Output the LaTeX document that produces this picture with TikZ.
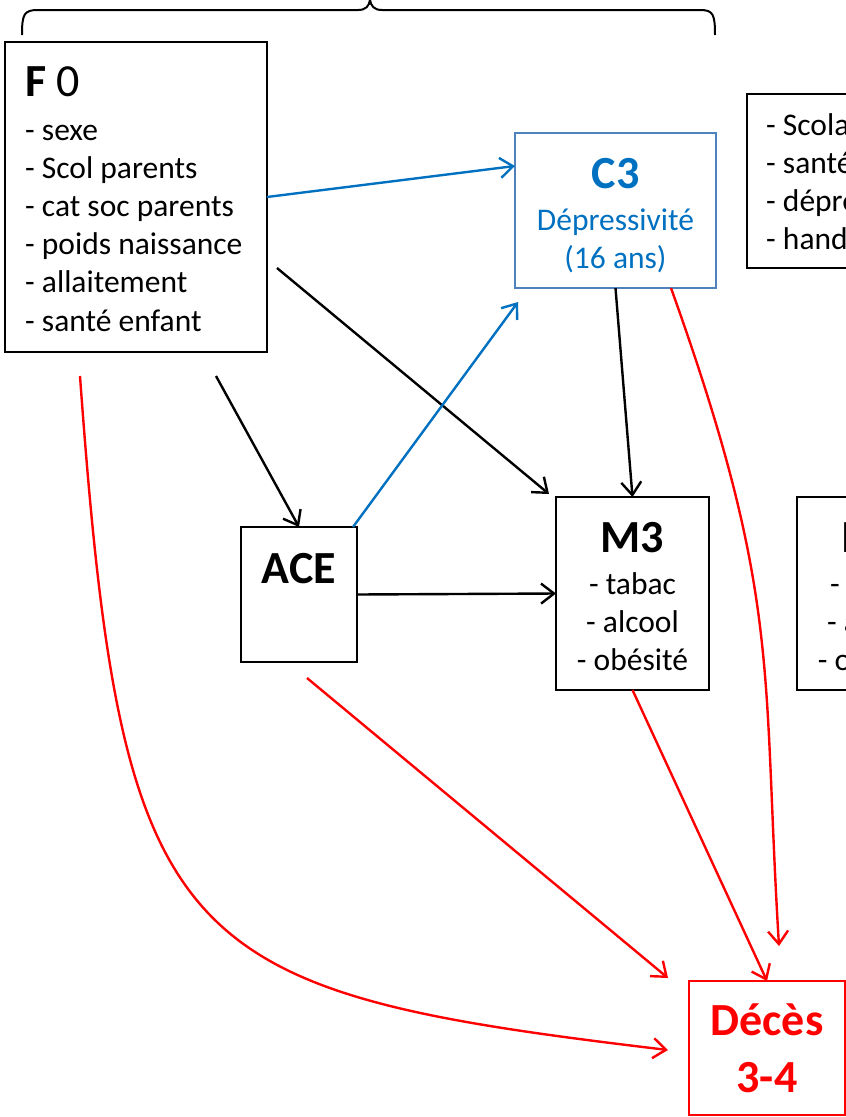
\documentclass[tikz,border=0pt]{standalone}
\usepackage{fontspec}
\setmainfont{Carlito}
\usetikzlibrary{arrows.meta,calc}
\definecolor{cblue}{HTML}{0070C0}
\definecolor{cboxblue}{HTML}{4F81BD}
\definecolor{cred}{HTML}{FF0000}
\begin{document}
\begin{tikzpicture}[x=1pt,y=-1pt,
  box/.style={draw=black,line width=2.3pt,inner sep=0pt,outer sep=0pt},
  item/.style={font=\fontsize{31.5}{38}\selectfont,inner sep=0pt},
  head/.style={font=\fontsize{46}{55}\selectfont\bfseries,inner sep=0pt},
  headnb/.style={font=\fontsize{46}{55}\selectfont,inner sep=0pt},
  arr/.style={line width=2.4pt,-{Straight Barb[length=13pt,width=20pt,line width=2.4pt]}},
]
\useasboundingbox (0,0) rectangle (846,1117);
\clip (0,0) rectangle (846,1117);

% brace
\draw[line width=2pt] (22,35) .. controls (22,14) and (24,10) .. (38,10) -- (358,10)
  .. controls (366,10) and (369,6) .. (370,0)
  .. controls (371,6) and (374,10) .. (382,10) -- (700,10)
  .. controls (713,10) and (715,14) .. (715,35);

% boxes
\node[box, minimum width=262pt, minimum height=310pt] (f0) at (136,197) {};
\node[box, draw=cboxblue, line width=2pt, minimum width=201pt, minimum height=155pt] (c3) at (615.5,210.5) {};
\node[box, minimum width=230pt, minimum height=174pt] (rt) at (862,181) {};
\node[box, minimum width=116pt, minimum height=135pt] (ace) at (299,594.5) {};
\node[box, minimum width=153pt, minimum height=193pt] (m3) at (632.5,593.5) {};
\node[box, minimum width=153pt, minimum height=193pt] (m4) at (873.5,593.5) {};
\node[box, draw=cred, minimum width=156pt, minimum height=134pt] (dec) at (767,1048) {};

% F0 text
\node[headnb, anchor=base west] (f0h) at (25,96) {\textbf{F} 0};
\foreach \t [count=\i] in {- sexe, - Scol parents, - cat soc parents, - poids naissance, - allaitement, - santé enfant}
  \node[item, anchor=base west] (f0l\i) at (25,{140+38.2*(\i-1)}) {\t};

% C3 text
\node[head, text=cblue, anchor=base] (c3h) at (615.5,188) {C3};
\node[item, text=cblue, anchor=base] (c3a) at (615.5,230) {Dépressivité};
\node[item, text=cblue, anchor=base] (c3b) at (615.5,268) {(16 ans)};

% right top box text
\foreach \t [count=\i] in {- Scolarité, - santé, - dépression, - handicap}
  \node[item, anchor=base west] (rtl\i) at (766,{135+38.3*(\i-1)}) {\t};

% ACE
\node[head, anchor=base] (aceh) at (299,583) {ACE};

% M3
\node[head, anchor=base] (m3h) at (632.5,552) {M3};
\node[item, anchor=base] (m3a) at (632.5,594) {- tabac};
\node[item, anchor=base] (m3b) at (632.5,632) {- alcool};
\node[item, anchor=base] (m3c) at (632.5,670) {- obésité};

% M4
\node[head, anchor=base] (m4h) at (873.5,552) {M4};
\node[item, anchor=base] (m4a) at (873.5,594) {- tabac};
\node[item, anchor=base] (m4b) at (873.5,632) {- alcool};
\node[item, anchor=base] (m4c) at (873.5,670) {- obésité};

% Deces
\node[head, text=cred, anchor=base] (dech) at (767,1035) {Décès};
\node[head, text=cred, anchor=base] (dec2) at (767,1092) {3-4};

% black arrows
\coordinate (s1) at (216,376);
\draw[arr] (s1) -- (ace.north);
\coordinate (s2) at (277,268);
\draw[arr] (s2) -- ($(m3.north west)+(-7,-3)$);
\draw[arr] (c3.south) -- (m3.north);
\draw[arr] (ace.east) -- (m3.west);

% blue arrows
\draw[arr, cblue] (f0.east) -- ($(c3.north west)+(0,33)$);
\draw[arr, cblue] ($(ace.north east)+(-4,0)$) -- ($(c3.south west)+(3,14)$);

% red arrows
\draw[arr, cred] ($(c3.south west)+(156,0)$) .. controls (782,598) and (762,667) .. ($(dec.north)+(12,-35)$);
\draw[arr, cred] (m3.south) -- (dec.north);
\coordinate (s9) at (307,678);
\draw[arr, cred] (s9) -- ($(dec.north west)+(-21,-3)$);
\coordinate (s10) at (80,376);
\draw[arr, cred] (s10) .. controls (122,956) and (173,991) .. ($(dec.west)+(-21,2)$);
\end{tikzpicture}
\end{document}
